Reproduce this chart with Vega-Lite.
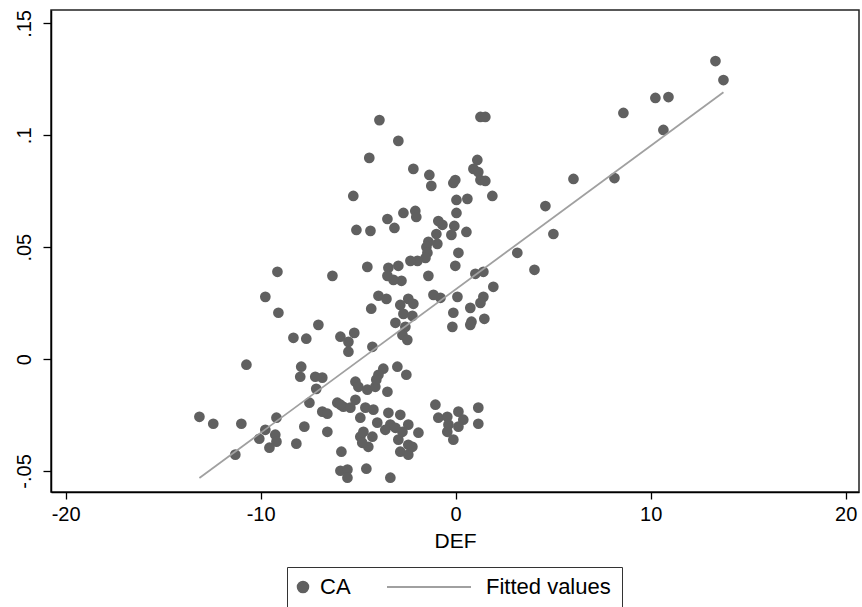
{
  "$schema": "https://vega.github.io/schema/vega-lite/v6.json",
  "width": 808,
  "height": 482,
  "autosize": {"type": "none"},
  "padding": {"left": 51, "top": 10, "right": 3, "bottom": 115},
  "background": "white",
  "config": {
    "font": "Liberation Sans",
    "view": {"stroke": "#222", "strokeWidth": 1.5}
  },
  "datasets": {
    "pts": [
      {"DEF": 13.32, "CA": 0.1332}, {"DEF": 13.73, "CA": 0.1247}, {"DEF": 10.24, "CA": 0.1167}, {"DEF": 10.91, "CA": 0.1171},
      {"DEF": 8.60, "CA": 0.1100}, {"DEF": 10.65, "CA": 0.1024}, {"DEF": 8.14, "CA": 0.0809}, {"DEF": 6.04, "CA": 0.0805},
      {"DEF": 4.60, "CA": 0.0684}, {"DEF": 5.01, "CA": 0.0559}, {"DEF": 3.16, "CA": 0.0475}, {"DEF": 4.04, "CA": 0.0399},
      {"DEF": -3.91, "CA": 0.1068}, {"DEF": -2.94, "CA": 0.0975}, {"DEF": -4.43, "CA": 0.0899}, {"DEF": 1.27, "CA": 0.1082},
      {"DEF": 1.52, "CA": 0.1082}, {"DEF": -2.17, "CA": 0.0850}, {"DEF": -1.35, "CA": 0.0823}, {"DEF": -1.25, "CA": 0.0774},
      {"DEF": 1.11, "CA": 0.0890}, {"DEF": 0.91, "CA": 0.0850}, {"DEF": 1.16, "CA": 0.0836}, {"DEF": 1.27, "CA": 0.0800},
      {"DEF": 1.52, "CA": 0.0796}, {"DEF": -0.02, "CA": 0.0800}, {"DEF": -0.12, "CA": 0.0787}, {"DEF": -5.25, "CA": 0.0729},
      {"DEF": 1.88, "CA": 0.0729}, {"DEF": 0.04, "CA": 0.0711}, {"DEF": 0.60, "CA": 0.0716}, {"DEF": 0.04, "CA": 0.0653},
      {"DEF": -2.68, "CA": 0.0653}, {"DEF": -2.07, "CA": 0.0662}, {"DEF": -2.02, "CA": 0.0635}, {"DEF": -3.50, "CA": 0.0626},
      {"DEF": -3.14, "CA": 0.0586}, {"DEF": -5.09, "CA": 0.0577}, {"DEF": -4.37, "CA": 0.0573}, {"DEF": -0.89, "CA": 0.0617},
      {"DEF": -0.68, "CA": 0.0600}, {"DEF": -0.07, "CA": 0.0595}, {"DEF": -0.22, "CA": 0.0555}, {"DEF": 0.55, "CA": 0.0568},
      {"DEF": -0.99, "CA": 0.0559}, {"DEF": -1.40, "CA": 0.0524}, {"DEF": -0.94, "CA": 0.0515}, {"DEF": -1.50, "CA": 0.0501},
      {"DEF": -1.45, "CA": 0.0475}, {"DEF": -1.55, "CA": 0.0452}, {"DEF": -1.96, "CA": 0.0439}, {"DEF": -2.32, "CA": 0.0439},
      {"DEF": 0.14, "CA": 0.0475}, {"DEF": -0.02, "CA": 0.0417}, {"DEF": -4.53, "CA": 0.0412}, {"DEF": -2.94, "CA": 0.0417},
      {"DEF": -3.45, "CA": 0.0408}, {"DEF": -3.50, "CA": 0.0372}, {"DEF": -2.78, "CA": 0.0350}, {"DEF": -3.19, "CA": 0.0354},
      {"DEF": -1.40, "CA": 0.0372}, {"DEF": 1.01, "CA": 0.0381}, {"DEF": 1.42, "CA": 0.0390}, {"DEF": 1.93, "CA": 0.0323},
      {"DEF": -3.96, "CA": 0.0283}, {"DEF": -3.55, "CA": 0.0269}, {"DEF": -2.43, "CA": 0.0269}, {"DEF": -1.14, "CA": 0.0287},
      {"DEF": -0.78, "CA": 0.0274}, {"DEF": 0.09, "CA": 0.0278}, {"DEF": 1.42, "CA": 0.0278}, {"DEF": -6.32, "CA": 0.0372},
      {"DEF": -9.14, "CA": 0.0390}, {"DEF": -9.76, "CA": 0.0278}, {"DEF": -9.09, "CA": 0.0207}, {"DEF": -7.04, "CA": 0.0153},
      {"DEF": -8.32, "CA": 0.0095}, {"DEF": -7.66, "CA": 0.0091}, {"DEF": -5.91, "CA": 0.0100}, {"DEF": -5.50, "CA": 0.0077},
      {"DEF": -5.50, "CA": 0.0033}, {"DEF": -5.20, "CA": 0.0117}, {"DEF": -10.73, "CA": -0.0025}, {"DEF": -7.92, "CA": -0.0034},
      {"DEF": -7.97, "CA": -0.0079}, {"DEF": -7.20, "CA": -0.0079}, {"DEF": -6.84, "CA": -0.0083}, {"DEF": -7.15, "CA": -0.0133},
      {"DEF": -7.50, "CA": -0.0195}, {"DEF": -6.07, "CA": -0.0195}, {"DEF": -5.76, "CA": -0.0213}, {"DEF": -13.14, "CA": -0.0258},
      {"DEF": -12.43, "CA": -0.0289}, {"DEF": -10.99, "CA": -0.0289}, {"DEF": -9.19, "CA": -0.0262}, {"DEF": -9.76, "CA": -0.0316},
      {"DEF": -9.25, "CA": -0.0338}, {"DEF": -10.07, "CA": -0.0356}, {"DEF": -9.19, "CA": -0.0369}, {"DEF": -9.55, "CA": -0.0396},
      {"DEF": -7.76, "CA": -0.0302}, {"DEF": -8.17, "CA": -0.0378}, {"DEF": -6.84, "CA": -0.0235}, {"DEF": -6.58, "CA": -0.0244},
      {"DEF": -6.58, "CA": -0.0325}, {"DEF": -11.30, "CA": -0.0427}, {"DEF": -5.86, "CA": -0.0414}, {"DEF": -5.91, "CA": -0.0499},
      {"DEF": -5.55, "CA": -0.0494}, {"DEF": -5.55, "CA": -0.0530}, {"DEF": -4.58, "CA": -0.0490}, {"DEF": -3.35, "CA": -0.0530},
      {"DEF": -4.33, "CA": 0.0225}, {"DEF": -4.27, "CA": 0.0055}, {"DEF": -2.84, "CA": 0.0242}, {"DEF": -2.17, "CA": 0.0247},
      {"DEF": -2.68, "CA": 0.0202}, {"DEF": -2.22, "CA": 0.0193}, {"DEF": -3.09, "CA": 0.0162}, {"DEF": -2.58, "CA": 0.0144},
      {"DEF": -2.73, "CA": 0.0108}, {"DEF": -2.48, "CA": 0.0086}, {"DEF": -0.12, "CA": 0.0207}, {"DEF": 0.75, "CA": 0.0229},
      {"DEF": 1.27, "CA": 0.0251}, {"DEF": 1.47, "CA": 0.0180}, {"DEF": 0.81, "CA": 0.0167}, {"DEF": 0.75, "CA": 0.0153},
      {"DEF": -0.17, "CA": 0.0144}, {"DEF": -3.71, "CA": -0.0043}, {"DEF": -3.96, "CA": -0.0070}, {"DEF": -2.99, "CA": -0.0034},
      {"DEF": -2.53, "CA": -0.0070}, {"DEF": -5.14, "CA": -0.0101}, {"DEF": -4.99, "CA": -0.0124}, {"DEF": -4.53, "CA": -0.0137},
      {"DEF": -4.12, "CA": -0.0124}, {"DEF": -4.07, "CA": -0.0092}, {"DEF": -3.50, "CA": -0.0146}, {"DEF": -5.91, "CA": -0.0204},
      {"DEF": -5.40, "CA": -0.0217}, {"DEF": -5.14, "CA": -0.0182}, {"DEF": -4.89, "CA": -0.0262}, {"DEF": -4.63, "CA": -0.0217},
      {"DEF": -4.22, "CA": -0.0226}, {"DEF": -1.04, "CA": -0.0204}, {"DEF": -3.45, "CA": -0.0240}, {"DEF": -2.84, "CA": -0.0249},
      {"DEF": -4.02, "CA": -0.0284}, {"DEF": -3.35, "CA": -0.0293}, {"DEF": -3.09, "CA": -0.0307}, {"DEF": -2.43, "CA": -0.0293},
      {"DEF": -1.91, "CA": -0.0329}, {"DEF": -2.94, "CA": -0.0360}, {"DEF": -2.43, "CA": -0.0383}, {"DEF": -2.84, "CA": -0.0414},
      {"DEF": -2.43, "CA": -0.0427}, {"DEF": -3.61, "CA": -0.0316}, {"DEF": -4.89, "CA": -0.0347}, {"DEF": -4.73, "CA": -0.0325},
      {"DEF": -4.27, "CA": -0.0347}, {"DEF": -4.48, "CA": -0.0392}, {"DEF": -0.89, "CA": -0.0262}, {"DEF": -0.43, "CA": -0.0258},
      {"DEF": -0.37, "CA": -0.0293}, {"DEF": -0.43, "CA": -0.0325}, {"DEF": -0.12, "CA": -0.0360}, {"DEF": 0.14, "CA": -0.0235},
      {"DEF": 0.39, "CA": -0.0271}, {"DEF": 0.14, "CA": -0.0302}, {"DEF": 1.16, "CA": -0.0217}, {"DEF": 1.16, "CA": -0.0289},
      {"DEF": -4.79, "CA": -0.0374}, {"DEF": -2.22, "CA": -0.0392}, {"DEF": -2.73, "CA": -0.0325}
    ],
    "fit": [
      {"DEF": -13.14, "fitted": -0.0531},
      {"DEF": 13.73, "fitted": 0.1192}
    ]
  },
  "layer": [
    {
      "data": {"name": "pts"},
      "mark": {"type": "circle", "size": 115, "opacity": 1},
      "encoding": {
        "x": {
          "field": "DEF", "type": "quantitative",
          "scale": {"domain": [-20.75, 20.68], "nice": false, "zero": false},
          "axis": {
            "values": [-20, -10, 0, 10, 20],
            "labelExpr": "'' + datum.value",
            "title": "DEF",
            "grid": false,
            "domainColor": "#000", "domainWidth": 1.5,
            "tickColor": "#000", "tickWidth": 1.3, "tickSize": 7,
            "labelFont": "Liberation Sans", "labelFontSize": 20, "labelColor": "#000", "labelPadding": 5,
            "titleFont": "Liberation Sans", "titleFontSize": 21, "titleFontWeight": "normal", "titleColor": "#000", "titlePadding": 6
          }
        },
        "y": {
          "field": "CA", "type": "quantitative",
          "scale": {"domain": [-0.0594, 0.156], "nice": false, "zero": false},
          "axis": {
            "values": [-0.05, 0, 0.05, 0.1, 0.15],
            "labelExpr": "replace('' + datum.value, '0.', '.')",
            "title": null,
            "grid": false,
            "domainColor": "#000", "domainWidth": 1.5,
            "tickColor": "#000", "tickWidth": 1.3, "tickSize": 8,
            "labelAngle": 270, "labelAlign": "center", "labelBaseline": "bottom",
            "labelFont": "Liberation Sans", "labelFontSize": 20, "labelColor": "#000", "labelPadding": 9
          }
        },
        "color": {
          "datum": "CA",
          "scale": {"domain": ["CA", "Fitted values"], "range": ["#606060", "#a0a0a0"]},
          "legend": {
            "orient": "none",
            "legendX": 236,
            "legendY": 557,
            "direction": "horizontal",
            "title": null,
            "padding": 11,
            "strokeColor": "#333",
            "labelFont": "Liberation Sans",
            "labelFontSize": 22,
            "labelColor": "#000",
            "columnPadding": 32,
            "symbolSize": 100,
            "encode": {
              "symbols": {
                "update": {
                  "shape": {"signal": "datum.value === 'CA' ? 'circle' : 'stroke'"},
                  "size": {"signal": "datum.value === 'CA' ? 115 : 7056"},
                  "fill": {"signal": "datum.value === 'CA' ? '#606060' : 'transparent'"},
                  "stroke": {"signal": "datum.value === 'CA' ? 'transparent' : '#a0a0a0'"},
                  "strokeWidth": {"value": 1.8},
                  "opacity": {"value": 1},
                  "x": {"signal": "datum.value === 'CA' ? 5 : 42"},
                  "y": {"value": 9}
                }
              },
              "labels": {
                "update": {
                  "x": {"signal": "datum.value === 'CA' ? 22 : 99"},
                  "y": {"value": 9}
                }
              }
            }
          }
        }
      }
    },
    {
      "data": {"name": "fit"},
      "mark": {"type": "line", "strokeWidth": 1.8},
      "encoding": {
        "x": {"field": "DEF", "type": "quantitative"},
        "y": {"field": "fitted", "type": "quantitative"},
        "color": {
          "datum": "Fitted values",
          "legend": {
            "orient": "none",
            "legendX": 236,
            "legendY": 557,
            "direction": "horizontal",
            "title": null,
            "padding": 11,
            "strokeColor": "#333",
            "labelFont": "Liberation Sans",
            "labelFontSize": 22,
            "labelColor": "#000",
            "columnPadding": 32,
            "symbolSize": 100,
            "encode": {
              "symbols": {
                "update": {
                  "shape": {"signal": "datum.value === 'CA' ? 'circle' : 'stroke'"},
                  "size": {"signal": "datum.value === 'CA' ? 115 : 7056"},
                  "fill": {"signal": "datum.value === 'CA' ? '#606060' : 'transparent'"},
                  "stroke": {"signal": "datum.value === 'CA' ? 'transparent' : '#a0a0a0'"},
                  "strokeWidth": {"value": 1.8},
                  "opacity": {"value": 1},
                  "x": {"signal": "datum.value === 'CA' ? 5 : 42"},
                  "y": {"value": 9}
                }
              },
              "labels": {
                "update": {
                  "x": {"signal": "datum.value === 'CA' ? 22 : 99"},
                  "y": {"value": 9}
                }
              }
            }
          }
        }
      }
    }
  ]
}
